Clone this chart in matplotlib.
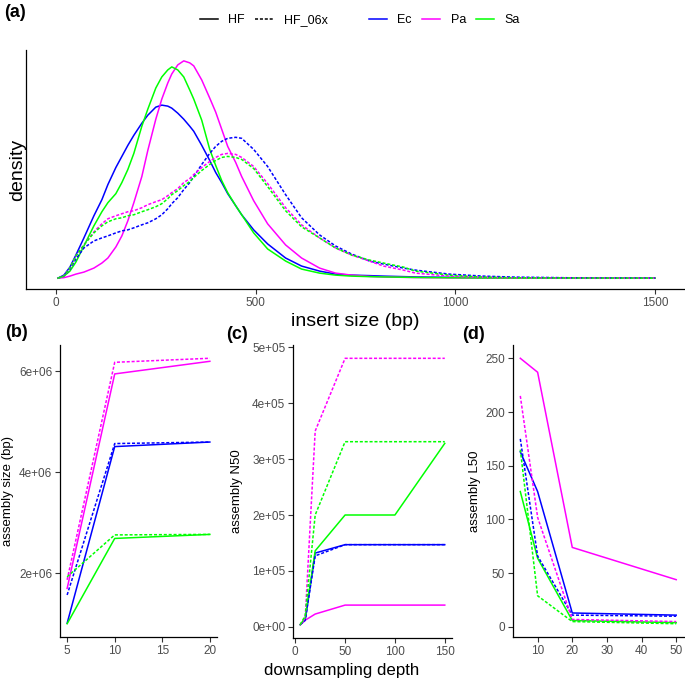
import matplotlib
matplotlib.use("Agg")
import matplotlib.pyplot as plt
from matplotlib.lines import Line2D

plt.rcParams["font.family"] = ["Liberation Sans", "DejaVu Sans"]

# ---- panel (a): insert size density (arbitrary density units) ----
insert_size = [5, 20, 35, 50, 70, 95, 115, 130, 150, 165, 180, 195, 215, 230,
               250, 265, 280, 290, 305, 320, 335, 345, 365, 385, 400, 415, 430,
               450, 465, 495, 530, 575, 615, 660, 700, 740, 785, 820, 870,
               900, 985, 1070, 1150, 1300, 1500]
dens_ec_hf = [0, 3, 11, 23, 40, 62, 78, 93, 110, 121, 132, 142, 154, 162,
              170, 172, 171, 169, 164, 158, 151, 146, 132, 117, 105, 95, 84,
              72, 63, 48, 34, 20, 12, 7, 4, 3, 2.5, 2, 1.5,
              1.2, 0.8, 0.5, 0.3, 0.1, 0]
dens_pa_hf = [0, 0.5, 2, 4, 6, 10, 15, 20, 31, 42, 57, 75, 101, 127,
              158, 178, 194, 203, 212, 216, 214, 211, 197, 179, 165, 148, 131,
              115, 101, 77, 54, 33, 20, 10, 5, 3, 1.7, 1.2, 0.8,
              0.6, 0.3, 0.2, 0.1, 0.05, 0]
dens_sa_hf = [0, 2, 7, 16, 32, 52, 66, 75, 84, 95, 108, 124, 151, 168,
              189, 200, 207, 210, 207, 200, 187, 178, 157, 128, 112, 97, 85,
              72, 63, 45, 29, 17, 9, 5, 3, 2, 1.5, 1.2, 0.9,
              0.7, 0.4, 0.2, 0.1, 0.05, 0]
dens_ec_06x = [0, 2, 9, 19, 30, 37, 40, 42, 45, 47, 48, 50, 53, 55,
               59, 63, 69, 74, 80, 88, 95, 101, 113, 124, 131, 136, 139,
               140, 139, 128, 111, 83, 60, 43, 32, 24, 17, 14, 10,
               8, 4, 2, 1, 0.3, 0]
dens_pa_06x = [0, 2, 10, 22, 33, 46, 54, 59, 62, 64, 66, 67, 70, 73,
               76, 78, 82, 85, 89, 95, 99, 103, 110, 116, 120, 123, 124,
               123, 120, 111, 94, 70, 53, 40, 30, 23, 17, 12, 8,
               5, 2, 0.8, 0.3, 0.1, 0]
dens_sa_06x = [0, 2, 10, 22, 33, 45, 52, 56, 59, 60, 62, 63, 66, 68,
               71, 74, 79, 83, 87, 92, 96, 100, 107, 113, 117, 120, 121,
               120, 118, 109, 91, 67, 51, 40, 30, 23, 18, 15, 11,
               7, 3, 1, 0.4, 0.1, 0]

# ---- panel (b): assembly size ----
depth_b = [5, 10, 20]
size_ec_hf = [1.01e6, 4.51e6, 4.60e6]
size_pa_hf = [1.70e6, 5.95e6, 6.20e6]
size_sa_hf = [1.00e6, 2.69e6, 2.77e6]
size_ec_06x = [1.57e6, 4.57e6, 4.60e6]
size_pa_06x = [1.87e6, 6.18e6, 6.26e6]
size_sa_06x = [1.93e6, 2.76e6, 2.77e6]

# ---- panel (c): assembly N50 ----
depth_c = [5, 10, 20, 50, 100, 150]
n50_ec_hf = [4e3, 1.2e4, 1.32e5, 1.47e5, 1.47e5, 1.47e5]
n50_pa_hf = [4e3, 1.2e4, 2.3e4, 3.9e4, 3.9e4, 3.9e4]
n50_sa_hf = [4e3, 1.6e4, 1.36e5, 2.0e5, 2.0e5, 3.28e5]
n50_ec_06x = [4e3, 1.2e4, 1.27e5, 1.47e5, 1.47e5, 1.47e5]
n50_pa_06x = [4e3, 1.6e4, 3.5e5, 4.8e5, 4.8e5, 4.8e5]
n50_sa_06x = [4e3, 2.0e4, 2.0e5, 3.31e5, 3.31e5, 3.31e5]

# ---- panel (d): assembly L50 ----
depth_d = [5, 10, 20, 50]
l50_ec_hf = [163, 126, 13, 11]
l50_pa_hf = [250, 237, 74, 44]
l50_sa_hf = [126, 64, 6, 4]
l50_ec_06x = [175, 66, 11, 10]
l50_pa_06x = [215, 102, 7, 5]
l50_sa_06x = [165, 29, 5, 3]

species = ["Ec", "Pa", "Sa"]
colors = {"Ec": "#0000FF", "Pa": "#FF00FF", "Sa": "#00FF00"}
DASH = (2, 1.2)
LW = 1.1

W, H = 685, 686


def rect(l, t, r, b):
    return [l / W, 1 - b / H, (r - l) / W, (b - t) / H]


def style(ax):
    for s in ("top", "right"):
        ax.spines[s].set_visible(False)
    for s in ("left", "bottom"):
        ax.spines[s].set_linewidth(0.9)
        ax.spines[s].set_color("black")
    ax.tick_params(length=3.5, width=0.8, color="#333333",
                   labelcolor="#4D4D4D", labelsize=8.5, pad=2)


def draw(ax, x, hf, x06):
    for sp, y in zip(species, hf):
        ax.plot(x, y, color=colors[sp], lw=LW)
    for sp, y in zip(species, x06):
        ax.plot(x, y, color=colors[sp], lw=LW, dashes=DASH)


fig = plt.figure(figsize=(W / 100, H / 100), dpi=100)

ax_a = fig.add_axes(rect(26, 50, 685, 289))
draw(ax_a, insert_size, [dens_ec_hf, dens_pa_hf, dens_sa_hf],
     [dens_ec_06x, dens_pa_06x, dens_sa_06x])
style(ax_a)
ax_a.set_xlim(-75, 1575)
ax_a.set_xticks([0, 500, 1000, 1500])
ax_a.set_yticks([])

ax_b = fig.add_axes(rect(60, 345, 217, 637))
draw(ax_b, depth_b, [size_ec_hf, size_pa_hf, size_sa_hf],
     [size_ec_06x, size_pa_06x, size_sa_06x])
style(ax_b)
ax_b.set_xticks([5, 10, 15, 20])
ax_b.set_yticks([2e6, 4e6, 6e6])
ax_b.set_yticklabels(["2e+06", "4e+06", "6e+06"])

ax_c = fig.add_axes(rect(293, 345, 452, 638))
draw(ax_c, depth_c, [n50_ec_hf, n50_pa_hf, n50_sa_hf],
     [n50_ec_06x, n50_pa_06x, n50_sa_06x])
style(ax_c)
ax_c.set_xticks([0, 50, 100, 150])
ax_c.set_yticks([0, 1e5, 2e5, 3e5, 4e5, 5e5])
ax_c.set_yticklabels(["0e+00", "1e+05", "2e+05", "3e+05", "4e+05", "5e+05"])

ax_d = fig.add_axes(rect(512.5, 345, 684, 637))
draw(ax_d, depth_d, [l50_ec_hf, l50_pa_hf, l50_sa_hf],
     [l50_ec_06x, l50_pa_06x, l50_sa_06x])
style(ax_d)
ax_d.set_xticks([10, 20, 30, 40, 50])
ax_d.set_yticks([0, 50, 100, 150, 200, 250])


def ftext(x, y, s, **kw):
    fig.text(x / W, 1 - y / H, s, **kw)


ftext(18, 170, "density", rotation=90, ha="center", va="center", fontsize=14)
ftext(355, 321, "insert size (bp)", ha="center", va="center", fontsize=14)
ftext(8, 491, "assembly size (bp)", rotation=90, ha="center", va="center", fontsize=9.5)
ftext(237, 491, "assembly N50", rotation=90, ha="center", va="center", fontsize=9.5)
ftext(475, 491, "assembly L50", rotation=90, ha="center", va="center", fontsize=9.5)
ftext(342, 670, "downsampling depth", ha="center", va="center", fontsize=12.2)

for lab, x, y in [("(a)", 4, 4), ("(b)", 5, 324), ("(c)", 226, 326), ("(d)", 462, 326)]:
    ftext(x, y, lab, ha="left", va="top", fontsize=13, fontweight="bold")

lt_handles = [Line2D([], [], color="black", lw=LW),
              Line2D([], [], color="black", lw=LW, dashes=DASH)]
col_handles = [Line2D([], [], color=colors[sp], lw=LW) for sp in species]
leg_kw = dict(frameon=False, loc="center", fontsize=9, handlelength=1.45,
              handletextpad=0.85, columnspacing=0.8, borderaxespad=0)
fig.legend(lt_handles, ["HF", "HF_06x"], ncol=2,
           bbox_to_anchor=(263.5 / W, 1 - 20 / H), **leg_kw)
fig.legend(col_handles, species, ncol=3,
           bbox_to_anchor=(444.5 / W, 1 - 20 / H), **leg_kw)

fig.savefig("out.png", dpi=100)
